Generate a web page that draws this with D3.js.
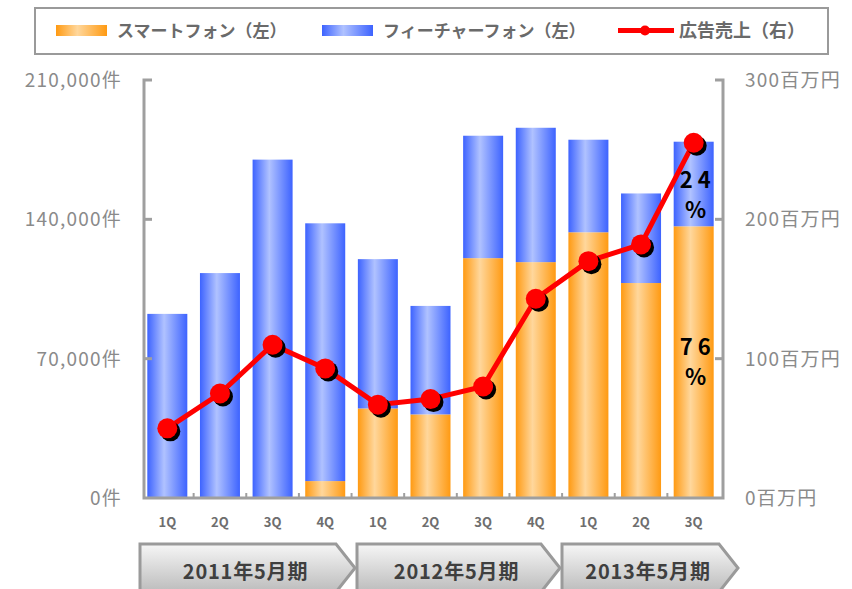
<!DOCTYPE html>
<html>
<head>
<meta charset="utf-8">
<script src="https://cdn.jsdelivr.net/npm/d3@7"></script>
<style>
  body { margin: 0; background: #fff; }
  text { font-family: "Noto Sans CJK JP", "Noto Sans", sans-serif; }
</style>
</head>
<body>
<script>
// データ
const quarters = ["1Q", "2Q", "3Q", "4Q", "1Q", "2Q", "3Q", "4Q", "1Q", "2Q", "3Q"];
const smartphone = [0, 0, 0, 8500, 45000, 42000, 120500, 118500, 133500, 108000, 136500];
const featurephone = [92500, 113000, 170000, 129500, 75000, 54500, 61500, 67500, 46500, 45000, 42500];
const adSales = [50, 75, 110, 93, 67, 71, 80, 143, 170, 182, 255];
const leftTicks = [0, 70000, 140000, 210000];
const rightTicks = [0, 100, 200, 300];
const periods = ["2011年5月期", "2012年5月期", "2013年5月期"];
const periodSpans = [[0, 4], [4, 8], [8, 11]];
const shareLabels = [{ text: "24", part: "fp" }, { text: "76", part: "sp" }];

const W = 852, H = 589;
const svg = d3.select("body").append("svg")
  .attr("width", W)
  .attr("height", H);

const defs = svg.append("defs");
function hGrad(id, edge, light) {
  const g = defs.append("linearGradient").attr("id", id)
    .attr("x1", "0%").attr("x2", "100%").attr("y1", "0%").attr("y2", "0%");
  g.append("stop").attr("offset", "0%").attr("stop-color", edge);
  g.append("stop").attr("offset", "42%").attr("stop-color", light);
  g.append("stop").attr("offset", "100%").attr("stop-color", edge);
}
hGrad("gBlue", "#3d63ff", "#b0c2ff");
hGrad("gOrange", "#ff9a12", "#ffd79c");
const vg = defs.append("linearGradient").attr("id", "gGray")
  .attr("x1", "0%").attr("x2", "0%").attr("y1", "0%").attr("y2", "100%");
vg.append("stop").attr("offset", "0%").attr("stop-color", "#f6f6f6");
vg.append("stop").attr("offset", "100%").attr("stop-color", "#bcbcbc");

// スケール
const x = d3.scaleBand()
  .domain(d3.range(quarters.length))
  .range([141, 720])
  .paddingInner(0.24)
  .paddingOuter(0.12);
const yL = d3.scaleLinear().domain([0, 210000]).range([498, 80]);
const yR = d3.scaleLinear().domain([0, 300]).range([498, 80]);
const xAxisL = 144, xAxisR = 723;

const axisColor = "#9f9f9f";

// 棒グラフ（積み上げ）
const stacked = quarters.map((q, i) => ({ i, sp: smartphone[i], fp: featurephone[i] }));
svg.append("g").selectAll("rect.sp")
  .data(stacked.filter(d => d.sp > 0))
  .join("rect")
  .attr("x", d => x(d.i))
  .attr("width", x.bandwidth())
  .attr("y", d => yL(d.sp))
  .attr("height", d => yL(0) - yL(d.sp))
  .attr("fill", "url(#gOrange)");
svg.append("g").selectAll("rect.fp")
  .data(stacked)
  .join("rect")
  .attr("x", d => x(d.i))
  .attr("width", x.bandwidth())
  .attr("y", d => yL(d.sp + d.fp))
  .attr("height", d => yL(d.sp) - yL(d.sp + d.fp))
  .attr("fill", "url(#gBlue)");

// 軸
const axes = svg.append("g").attr("stroke", axisColor).attr("stroke-width", 3).attr("fill", "none");
axes.append("path").attr("d", `M${xAxisL + 8},${yL(210000)}H${xAxisL}V${yL(0)}H${xAxisR}V${yR(300)}H${xAxisR - 8}`);
leftTicks.slice(1, 3).forEach(t => {
  axes.append("line").attr("x1", xAxisL).attr("x2", xAxisL + 8).attr("y1", yL(t)).attr("y2", yL(t));
});
rightTicks.slice(1, 3).forEach(t => {
  axes.append("line").attr("x1", xAxisR).attr("x2", xAxisR - 8).attr("y1", yR(t)).attr("y2", yR(t));
});
d3.range(1, quarters.length).forEach(i => {
  const bx = x(i) - x.step() * x.paddingInner() / 2;
  axes.append("line").attr("x1", bx).attr("x2", bx).attr("y1", yL(0)).attr("y2", yL(0) - 5)
    .attr("stroke-width", 2);
});

svg.append("g").selectAll("text")
  .data(leftTicks)
  .join("text")
  .attr("x", 122)
  .attr("y", d => yL(d))
  .attr("dy", "0.36em")
  .attr("text-anchor", "end")
  .attr("font-family", "DejaVu Sans, sans-serif")
  .attr("font-size", 19)
  .attr("letter-spacing", 1.2)
  .attr("fill", "#8a8a8a")
  .text(d => d3.format(",")(d) + "件");
svg.append("g").selectAll("text")
  .data(rightTicks)
  .join("text")
  .attr("x", 745)
  .attr("y", d => yR(d))
  .attr("dy", "0.36em")
  .attr("font-family", "DejaVu Sans, sans-serif")
  .attr("font-size", 19)
  .attr("letter-spacing", 1.2)
  .attr("fill", "#8a8a8a")
  .text(d => d + "百万円");

svg.append("g").selectAll("text")
  .data(quarters)
  .join("text")
  .attr("x", (d, i) => x(i) + x.bandwidth() / 2)
  .attr("y", 522)
  .attr("dy", "0.36em")
  .attr("text-anchor", "middle")
  .attr("font-size", 13)
  .attr("font-weight", 700)
  .attr("fill", "#6e6e6e")
  .text(d => d);

// 広告売上（折れ線）
const line = d3.line()
  .x((d, i) => x(i) + x.bandwidth() / 2)
  .y(d => yR(d));
svg.append("path")
  .datum(adSales)
  .attr("d", line)
  .attr("fill", "none")
  .attr("stroke", "#ff0000")
  .attr("stroke-width", 5);
const dots = svg.append("g");
dots.selectAll("circle.sh")
  .data(adSales)
  .join("circle")
  .attr("cx", (d, i) => x(i) + x.bandwidth() / 2 + 3)
  .attr("cy", d => yR(d) + 3)
  .attr("r", 10)
  .attr("fill", "#000");
dots.selectAll("circle.pt")
  .data(adSales)
  .join("circle")
  .attr("cx", (d, i) => x(i) + x.bandwidth() / 2)
  .attr("cy", d => yR(d))
  .attr("r", 10)
  .attr("fill", "#ff0000");

// 構成比ラベル（最終四半期）
const last = quarters.length - 1;
const lastTotal = smartphone[last] + featurephone[last];
shareLabels.forEach(s => {
  const cx = x(last) + x.bandwidth() / 2 + 2;
  const top = s.part === "fp" ? yL(lastTotal) : yL(smartphone[last]);
  const bot = s.part === "fp" ? yL(smartphone[last]) : yL(0);
  const mid = (top + bot) / 2 + (s.part === "fp" ? 12 : 1);
  const t = svg.append("text")
    .attr("text-anchor", "middle")
    .attr("font-family", "Liberation Sans, Arial, sans-serif")
    .attr("font-weight", 700)
    .attr("font-size", 22)
    .attr("fill", "#000");
  t.append("tspan").attr("x", cx + 2).attr("y", mid - 8).attr("letter-spacing", 5).text(s.text);
  t.append("tspan").attr("x", cx).attr("y", mid + 22).text("%");
});

// 期間（矢印ボックス）
const px = d3.scaleLinear().domain([0, 4, 8, 11]).range([140, 356, 561, 738]);
const pg = svg.append("g");
periods.forEach((p, k) => {
  const [a, b] = periodSpans[k];
  const l = px(a) + (k === 0 ? 0 : 1), tip = px(b) - (k === 2 ? 0 : 1);
  const top = 544, midY = 568, bot = 592;
  pg.append("path")
    .attr("d", `M${l},${bot}V${top}H${tip - 19}L${tip},${midY}L${tip - 19},${bot}`)
    .attr("fill", "url(#gGray)")
    .attr("stroke", "#9a9a9a")
    .attr("stroke-width", 3);
  pg.append("text")
    .attr("x", (l + tip) / 2 - 2)
    .attr("y", 572)
    .attr("dy", "0.36em")
    .attr("text-anchor", "middle")
    .attr("font-size", 20)
    .attr("font-weight", 700)
    .attr("letter-spacing", 0.8)
    .attr("fill", "#3f3f3f")
    .text(p);
});

// 凡例
const lg = svg.append("g");
lg.append("rect").attr("x", 35).attr("y", 8).attr("width", 793).attr("height", 46)
  .attr("fill", "#fff").attr("stroke", "#9a9a9a").attr("stroke-width", 2);
const legendItems = [
  { label: "スマートフォン（左）", type: "bar", fill: "url(#gOrange)", x: 56 },
  { label: "フィーチャーフォン（左）", type: "bar", fill: "url(#gBlue)", x: 322 },
  { label: "広告売上（右）", type: "line", x: 618 }
];
legendItems.forEach(it => {
  if (it.type === "bar") {
    lg.append("rect").attr("x", it.x).attr("y", 25).attr("width", 51).attr("height", 11).attr("fill", it.fill);
  } else {
    lg.append("line").attr("x1", it.x).attr("x2", it.x + 56).attr("y1", 30.5).attr("y2", 30.5)
      .attr("stroke", "#ff0000").attr("stroke-width", 5);
    lg.append("circle").attr("cx", it.x + 27).attr("cy", 30.5).attr("r", 5).attr("fill", "#ff0000");
  }
  lg.append("text")
    .attr("x", it.x + 61)
    .attr("y", 31)
    .attr("dy", "0.36em")
    .attr("font-size", it.type === "bar" ? 17 : 18)
    .attr("font-weight", 700)
    .attr("fill", "#6a6a6a")
    .text(it.label);
});
</script>
</body>
</html>
